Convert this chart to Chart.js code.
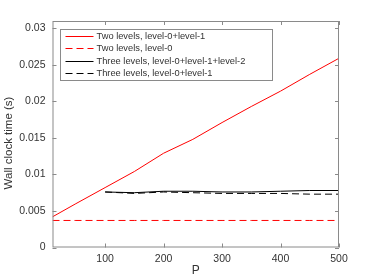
<!DOCTYPE html>
<html>
<head>
<meta charset="utf-8">
<script src="https://cdn.jsdelivr.net/npm/chart.js@4.4.1/dist/chart.umd.min.js"></script>
<style>
  html, body { margin: 0; padding: 0; background: #fff; }
  #wrap { width: 374px; height: 280px; }
</style>
</head>
<body>
<div id="wrap"><canvas id="grafico"></canvas></div>
<script>
// valores
const pTwo = [10, 50, 100, 150, 200, 250, 300, 350, 400, 450, 500]
const twoL01 = [0.0042, 0.0060, 0.0082, 0.0104, 0.0129, 0.0148, 0.0171, 0.0193, 0.0214, 0.0237, 0.0259]
const twoL0 = [0.0037, 0.0037, 0.0037, 0.0037, 0.0037, 0.0037, 0.0037, 0.0037, 0.0037, 0.0037, 0.0037]
const pThree = [100, 150, 200, 250, 300, 350, 400, 450, 500]
const threeL012 = [0.0076, 0.0075, 0.0077, 0.0077, 0.0076, 0.0076, 0.0077, 0.0078, 0.0078]
const threeL01 = [0.0076, 0.0074, 0.0076, 0.0075, 0.0074, 0.0074, 0.0074, 0.0073, 0.0073]
const labels = ['Two levels, level-0+level-1', 'Two levels, level-0', 'Three levels, level-0+level-1+level-2', 'Three levels, level-0+level-1']
const xTicks = [100, 200, 300, 400, 500]
const yTicks = [0, 0.005, 0.01, 0.015, 0.02, 0.025, 0.03]
const yTitulo = 'Wall clock time (s)'

const pares = (xs, ys) => xs.map((x, i) => ({ x: x, y: ys[i] }))
const fonte = 'Liberation Sans, Arial, sans-serif'
const cinza = '#8a8a8a'

// moldura com ticks para dentro, titulo do eixo y e legenda dentro do grafico
const moldura = {
  id: 'moldura',
  afterDraw(chart) {
    const c = chart.ctx
    const a = chart.chartArea
    const sx = chart.scales.x
    const sy = chart.scales.y
    c.save()
    c.strokeStyle = cinza
    c.lineWidth = 1
    c.strokeRect(a.left + 0.5, a.top + 0.5, a.right - a.left - 1, a.bottom - a.top - 1)
    c.beginPath()
    xTicks.forEach(v => {
      const px = Math.round(sx.getPixelForValue(v)) + 0.5
      c.moveTo(px, a.bottom); c.lineTo(px, a.bottom - 4)
      c.moveTo(px, a.top); c.lineTo(px, a.top + 4)
    })
    yTicks.forEach(v => {
      const py = Math.round(sy.getPixelForValue(v)) + 0.5
      c.moveTo(a.left, py); c.lineTo(a.left + 4, py)
      c.moveTo(a.right, py); c.lineTo(a.right - 4, py)
    })
    c.stroke()

    // titulo do eixo y
    c.save()
    c.translate(9, 143)
    c.rotate(-Math.PI / 2)
    c.font = '11.5px ' + fonte
    c.fillStyle = '#333'
    c.textAlign = 'center'
    c.textBaseline = 'middle'
    c.fillText(yTitulo, 0, 0)
    c.restore()

    // legenda
    const bx = Math.round(a.left + 7) + 0.5, by = Math.round(a.top + 8) + 0.5, bw = 212, bh = 51
    c.fillStyle = '#fff'
    c.fillRect(bx, by, bw, bh)
    c.strokeStyle = cinza
    c.strokeRect(bx, by, bw, bh)
    c.font = '9.3px ' + fonte
    c.textBaseline = 'middle'
    chart.data.datasets.forEach((ds, i) => {
      const yy = Math.round(by + 6 + i * 12.6) + 0.5
      c.strokeStyle = ds.borderColor
      c.lineWidth = 1
      c.setLineDash(ds.borderDash || [])
      c.beginPath()
      c.moveTo(bx + 5, yy); c.lineTo(bx + 33, yy)
      c.stroke()
      c.setLineDash([])
      c.fillStyle = '#333'
      c.fillText(ds.label, bx + 36, yy)
    })
    c.restore()
  }
}

const ctx = document.getElementById('grafico')
const grafico = new Chart(ctx, {
  type: 'line',
  data: {
    datasets: [{
      label: labels[0],
      data: pares(pTwo, twoL01),
      borderColor: '#ff0000',
      borderWidth: 1,
    }, {
      label: labels[1],
      data: pares(pTwo, twoL0),
      borderColor: '#ff0000',
      borderDash: [7, 4],
      borderWidth: 1,
    }, {
      label: labels[2],
      data: pares(pThree, threeL012),
      borderColor: '#000000',
      borderWidth: 1,
    }, {
      label: labels[3],
      data: pares(pThree, threeL01),
      borderColor: '#000000',
      borderDash: [7, 4],
      borderWidth: 1,
    }]
  },
  options: {
    responsive: true,
    maintainAspectRatio: false,
    animation: false,
    elements: { point: { radius: 0 }, line: { tension: 0 } },
    layout: { padding: { left: 0, top: 21, right: 35, bottom: 0 } },
    plugins: { legend: { display: false }, tooltip: { enabled: false } },
    scales: {
      x: {
        type: 'linear',
        min: 10,
        max: 500,
        afterBuildTicks: s => { s.ticks = xTicks.map(v => ({ value: v })) },
        afterFit: s => { s.height = 32.5 },
        grid: { display: false, drawTicks: false },
        border: { display: false },
        ticks: { color: '#333', font: { family: fonte, size: 10.5 }, padding: 5, maxRotation: 0 },
        title: { display: true, text: 'P', color: '#333', font: { family: fonte, size: 12 }, padding: { top: 0, bottom: 2 } }
      },
      y: {
        min: 0,
        max: 0.031,
        afterBuildTicks: s => { s.ticks = yTicks.map(v => ({ value: v })) },
        afterFit: s => { s.width = 52.5 },
        grid: { display: false, drawTicks: false },
        border: { display: false },
        ticks: { color: '#333', font: { family: fonte, size: 10.5 }, padding: 7, callback: v => String(v) },
        title: { display: false }
      }
    }
  },
  plugins: [moldura]
})
</script>
</body>
</html>
